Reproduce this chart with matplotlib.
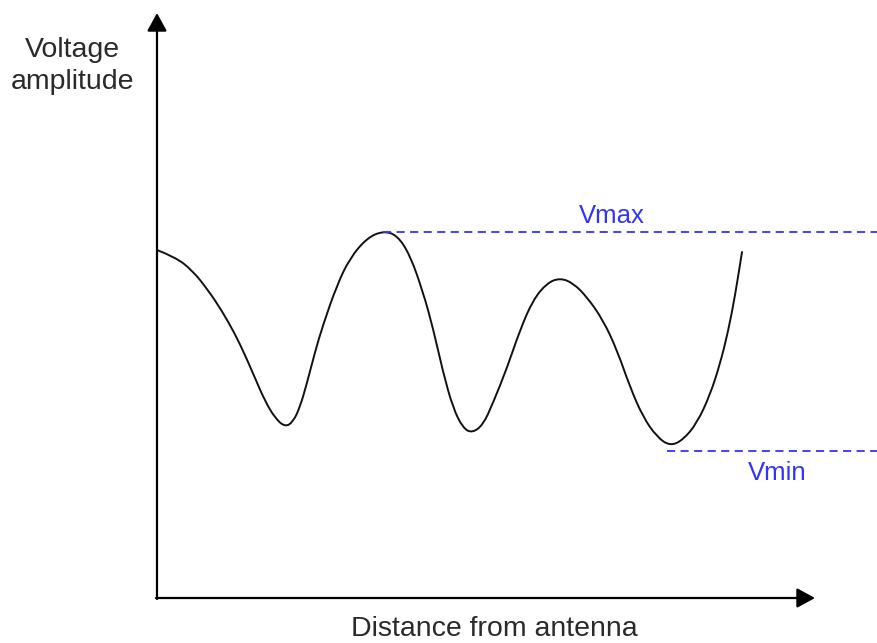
import matplotlib.pyplot as plt
from matplotlib.path import Path
from matplotlib.patches import PathPatch

# ===== Data (sketch units, y grows downward like the drawing) =====
curve_x = [157, 175, 192, 208, 222, 235, 245, 255, 265, 275, 285, 293, 300, 307, 315,
           323, 337, 350, 367, 383, 397, 410, 423, 433, 443, 453, 463, 472, 483, 493,
           507, 520, 533, 547, 560, 573, 587, 603, 617, 630, 643, 657, 670, 683, 697,
           710, 720, 728, 735, 742]
curve_y = [250, 257, 270, 290, 311, 334, 355, 378, 401, 418, 427, 422, 407, 383, 352,
           325, 285, 258, 238, 231, 235, 255, 292, 328, 372, 408, 428, 433, 425, 403,
           368, 330, 300, 283, 278, 283, 297, 320, 350, 387, 417, 437, 446, 440, 423,
           395, 364, 332, 296, 252]

vmax_y = 232
vmin_y = 451
vmax_x0 = 383
vmin_x0 = 667

axis_x0, axis_y0 = 157, 598
axis_top = 13
axis_right = 815

text_col = "#2a2a2a"
blue = "#3333ff"

plt.rcParams['font.family'] = ['Liberation Sans', 'DejaVu Sans']

fig = plt.figure(figsize=(8.77, 6.43), dpi=100, facecolor='white')
ax = fig.add_axes([0, 0, 1, 1])
ax.set_xlim(0, 877)
ax.set_ylim(643, 0)
ax.axis('off')

# axes with arrow heads
arrow_kw = dict(arrowstyle='-|>,head_length=0.55,head_width=0.3', color='black',
                lw=1.6, mutation_scale=20, shrinkA=0, shrinkB=0)
ax.annotate('', xy=(axis_x0, axis_top), xytext=(axis_x0, axis_y0 + 1), arrowprops=arrow_kw)
ax.annotate('', xy=(axis_right, axis_y0), xytext=(axis_x0 - 1, axis_y0), arrowprops=arrow_kw)

# standing wave curve, smoothed as a quadratic bezier through the read points
pts = list(zip(curve_x, curve_y))
verts = [pts[0]]
codes = [Path.MOVETO]
for i in range(1, len(pts) - 1):
    mid = ((pts[i][0] + pts[i + 1][0]) / 2, (pts[i][1] + pts[i + 1][1]) / 2)
    verts += [pts[i], mid]
    codes += [Path.CURVE3, Path.CURVE3]
verts.append(pts[-1])
codes.append(Path.LINETO)
ax.add_patch(PathPatch(Path(verts, codes), facecolor='none', edgecolor='#111111',
                       lw=1.4, capstyle='round', joinstyle='round'))

# Vmax / Vmin markers
ax.plot([vmax_x0, 877], [vmax_y, vmax_y], color=blue, lw=1.3, dashes=(4.5, 3))
ax.plot([vmin_x0, 877], [vmin_y, vmin_y], color=blue, lw=1.3, dashes=(4.5, 3))
ax.text(612, 223, "Vmax", color=blue, fontsize=18.5, ha='center', va='baseline')
ax.text(777, 480, "Vmin", color=blue, fontsize=18.5, ha='center', va='baseline')

# labels
ax.text(72.5, 57, "Voltage", color=text_col, fontsize=20.5, ha='center', va='baseline')
ax.text(72.5, 89, "amplitude", color=text_col, fontsize=20.5, ha='center', va='baseline')
ax.text(494, 636, "Distance from antenna", color=text_col, fontsize=20.5, ha='center',
        va='baseline')

fig.savefig("out.png", dpi=100, facecolor='white')
